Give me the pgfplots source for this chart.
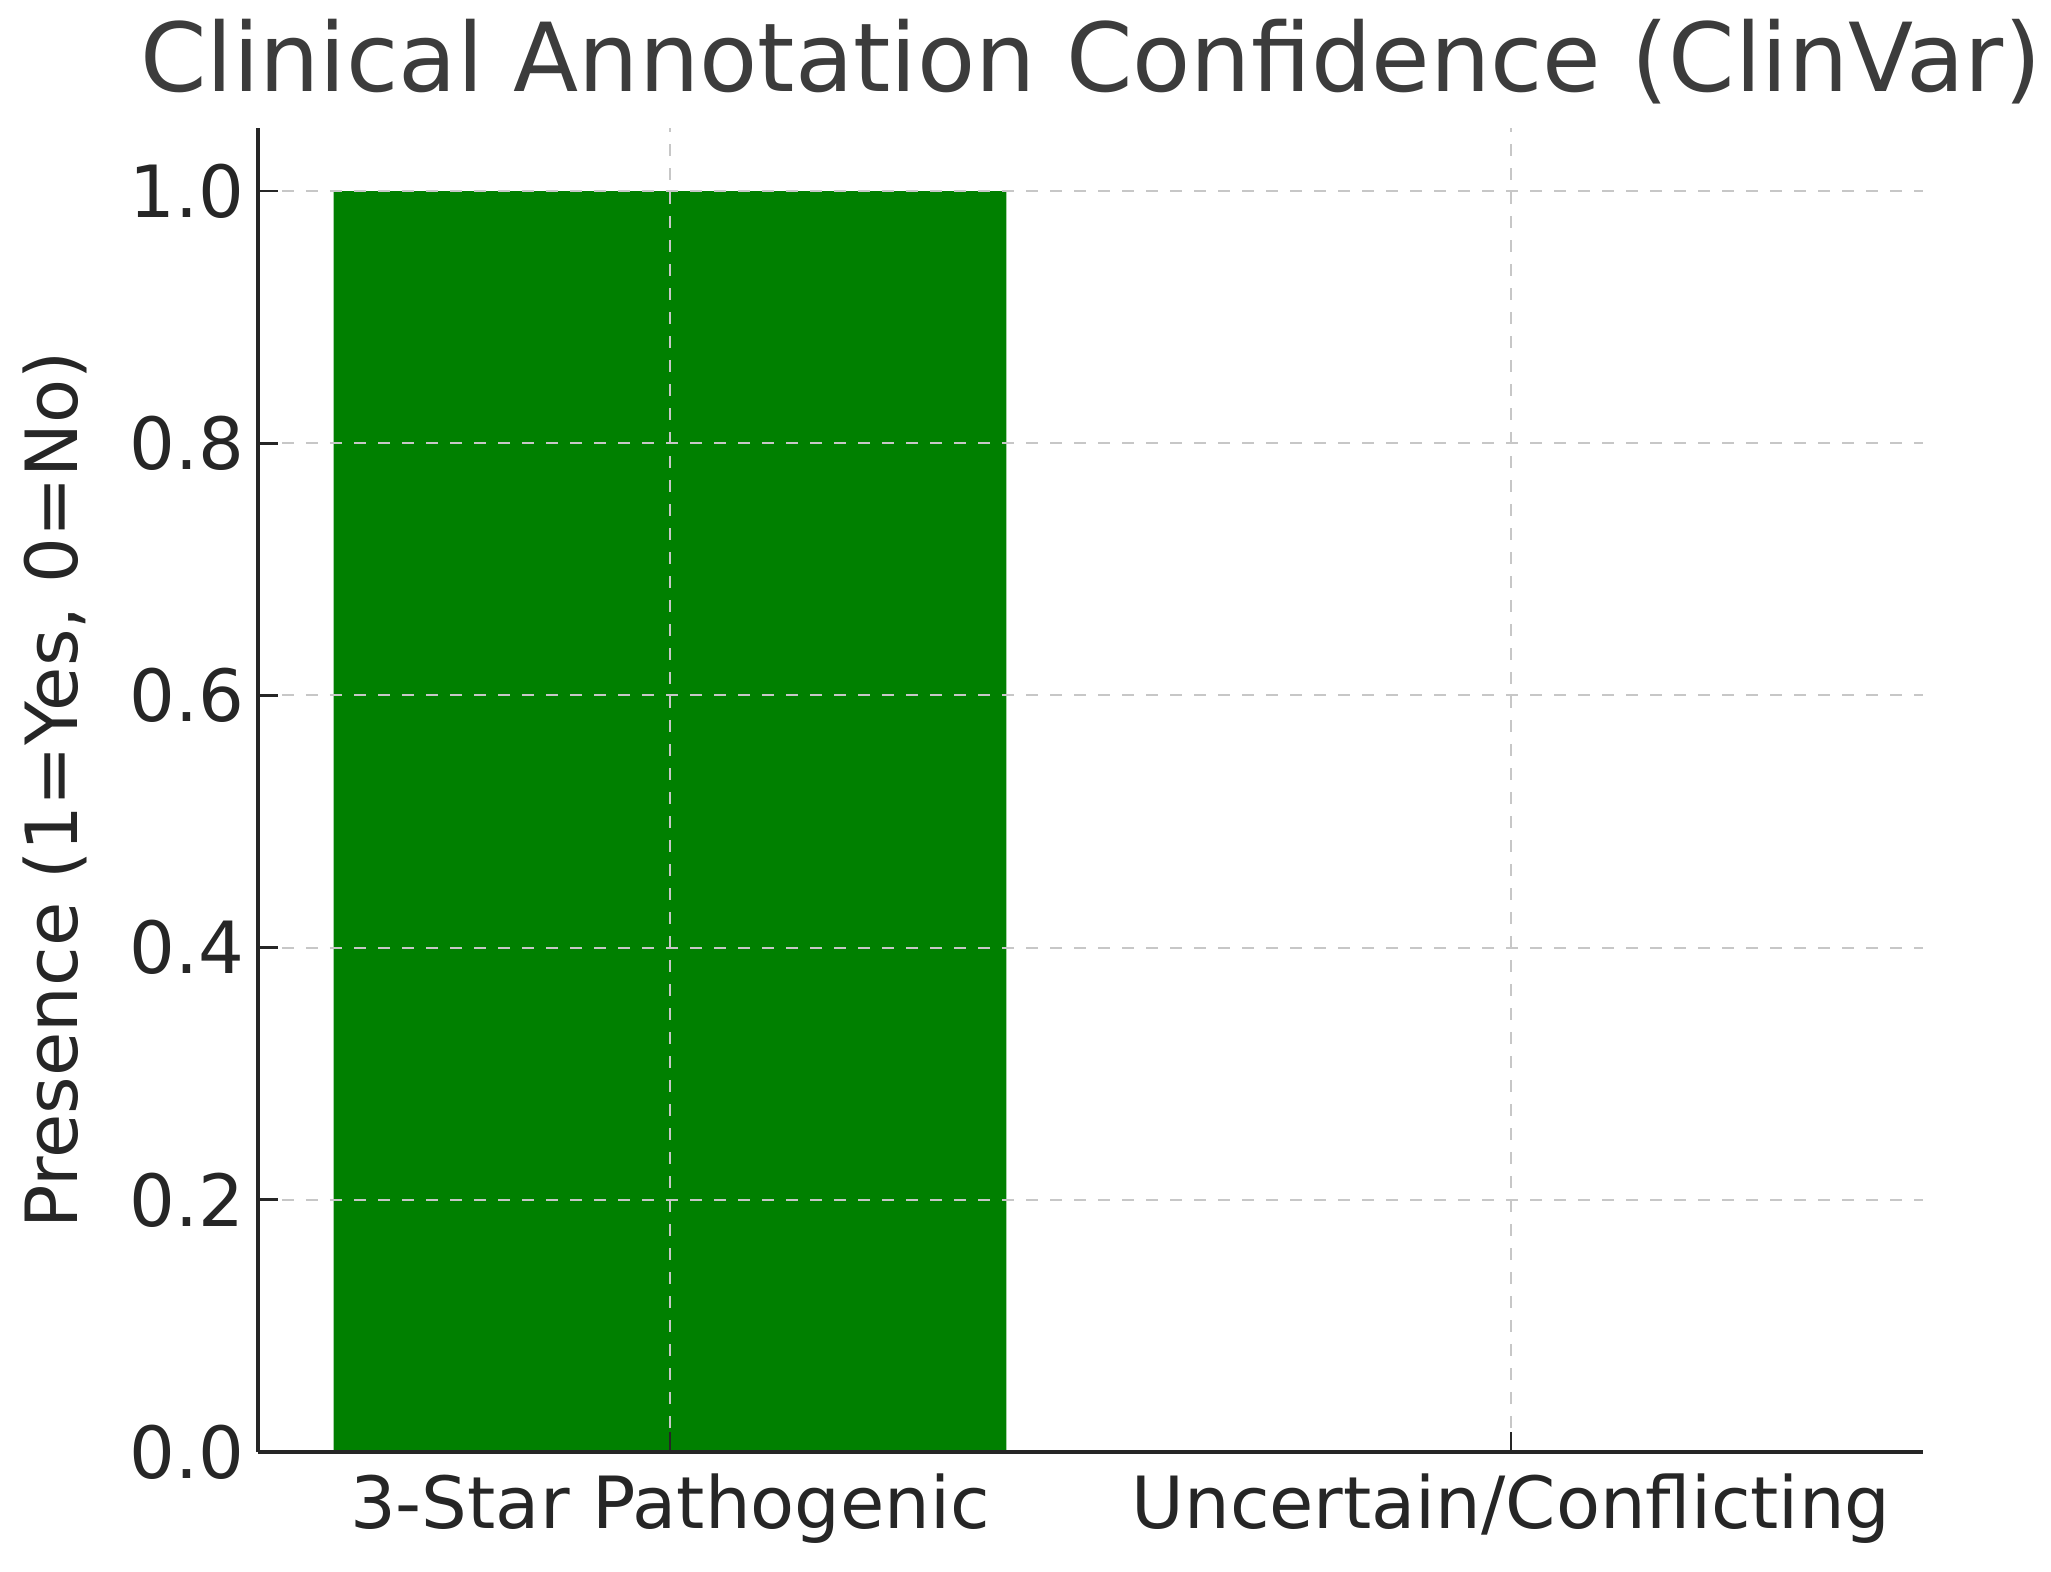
\documentclass[border=0pt]{standalone}
\usepackage{pgfplots}
\pgfplotsset{compat=1.18}
\usepackage{fontspec}
\setmainfont{DejaVu Sans}
\definecolor{txt}{HTML}{262626}
\definecolor{barg}{RGB}{0,128,0}
\begin{document}
\begin{tikzpicture}
\begin{axis}[
  scale only axis, width=416.25pt, height=331pt,
  axis on top,
  xmin=-0.49, xmax=1.49, ymin=0, ymax=1.05,
  xtick={0,1}, xticklabels={3-Star Pathogenic, Uncertain/Conflicting},
  ytick={0,0.2,0.4,0.6,0.8,1.0},
  yticklabel style={/pgf/number format/.cd, fixed, fixed zerofill, precision=1},
  xticklabel style={yshift=-2pt},
  /pgf/number format/assume math mode=true,
  axis x line*=bottom, axis y line*=left,
  axis line style={line width=0.9pt, color=txt, -},
  tick style={line width=0.7pt, color=txt},
  major tick length=5pt,
  grid=major, major grid style={dashed, color=black!22, line width=0.5pt},
  tick label style={font=\fontsize{18}{21}\selectfont, color=txt},
  title={Clinical Annotation Confidence (ClinVar)},
  title style={font=\fontsize{23.8}{28}\selectfont, color=txt!90, at={(0.5,1)}, anchor=base, yshift=3pt},
  ylabel={Presence (1=Yes, 0=No)},
  ylabel style={font=\fontsize{18}{21}\selectfont, color=txt, at={(axis description cs:-0.122,0.5)}, anchor=center},
]
\addplot[ybar, bar width=0.8, fill=barg, draw=none] coordinates {(0,1) (1,0)};
\end{axis}
\pgfresetboundingbox
\path (current axis.south west) ++(-64.5pt,-29.75pt) rectangle ++(512.75pt,392.75pt);
\end{tikzpicture}
\end{document}
